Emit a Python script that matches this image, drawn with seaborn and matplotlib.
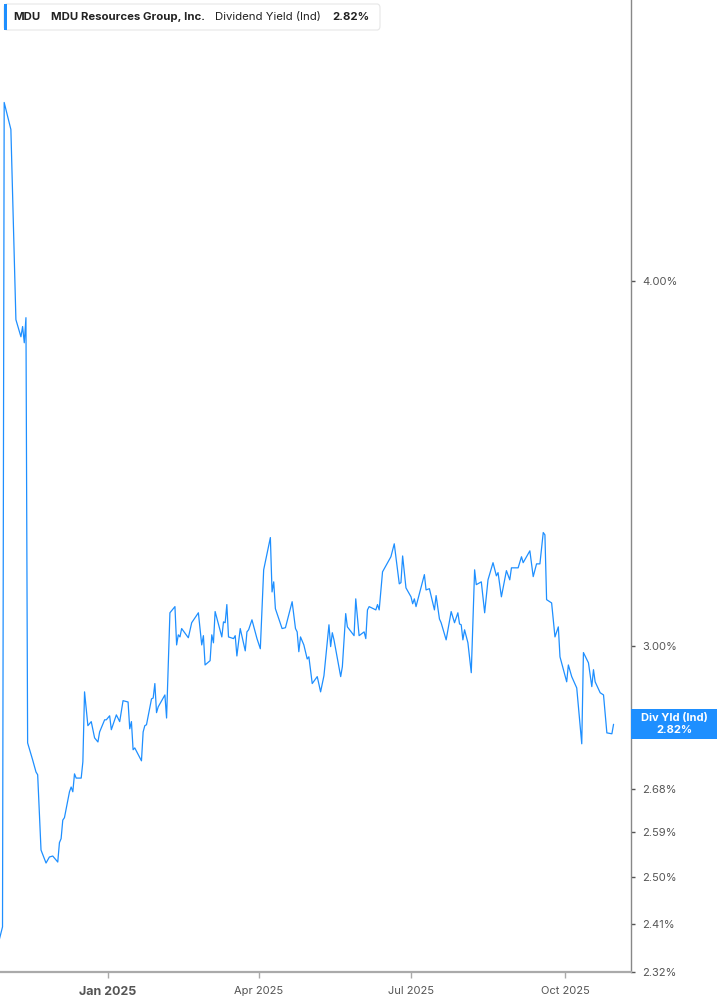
import pandas as pd
import numpy as np
import seaborn as sns
import matplotlib.pyplot as plt
import matplotlib.dates as mdates
from matplotlib.patches import Rectangle, FancyBboxPatch
from matplotlib.ticker import FixedLocator, FixedFormatter, NullLocator

sns.set_style("white")
plt.rcParams['font.family'] = ['Inter', 'DejaVu Sans']

# MDU dividend yield (Ind)
dates = ['2024-10-28', '2024-10-30', '2024-10-31', '2024-11-04', '2024-11-07', '2024-11-10',
         '2024-11-11', '2024-11-12', '2024-11-13', '2024-11-14', '2024-11-17', '2024-11-19',
         '2024-11-20', '2024-11-22', '2024-11-25', '2024-11-27', '2024-11-29', '2024-12-02',
         '2024-12-03', '2024-12-04', '2024-12-05', '2024-12-06', '2024-12-09', '2024-12-10',
         '2024-12-11', '2024-12-12', '2024-12-13', '2024-12-16', '2024-12-17', '2024-12-18',
         '2024-12-20', '2024-12-22', '2024-12-24', '2024-12-26', '2024-12-27', '2024-12-30',
         '2024-12-31', '2025-01-02', '2025-01-03', '2025-01-06', '2025-01-08', '2025-01-10',
         '2025-01-13', '2025-01-14', '2025-01-15', '2025-01-16', '2025-01-17', '2025-01-21',
         '2025-01-22', '2025-01-23', '2025-01-24', '2025-01-27', '2025-01-28', '2025-01-29',
         '2025-01-30', '2025-01-31', '2025-02-04', '2025-02-05', '2025-02-07', '2025-02-10',
         '2025-02-11', '2025-02-12', '2025-02-13', '2025-02-14', '2025-02-18', '2025-02-20',
         '2025-02-24', '2025-02-26', '2025-02-27', '2025-02-28', '2025-03-03', '2025-03-04',
         '2025-03-05', '2025-03-06', '2025-03-10', '2025-03-11', '2025-03-12', '2025-03-13',
         '2025-03-14', '2025-03-17', '2025-03-18', '2025-03-19', '2025-03-21', '2025-03-24',
         '2025-03-25', '2025-03-26', '2025-03-28', '2025-03-31', '2025-04-02', '2025-04-04',
         '2025-04-08', '2025-04-09', '2025-04-10', '2025-04-11', '2025-04-15', '2025-04-17',
         '2025-04-21', '2025-04-23', '2025-04-24', '2025-04-25', '2025-04-26', '2025-04-28',
         '2025-04-30', '2025-05-01', '2025-05-03', '2025-05-06', '2025-05-08', '2025-05-10',
         '2025-05-13', '2025-05-14', '2025-05-15', '2025-05-16', '2025-05-20', '2025-05-21',
         '2025-05-23', '2025-05-24', '2025-05-28', '2025-05-29', '2025-05-31', '2025-06-03',
         '2025-06-04', '2025-06-05', '2025-06-06', '2025-06-10', '2025-06-11', '2025-06-12',
         '2025-06-14', '2025-06-17', '2025-06-19', '2025-06-21', '2025-06-24', '2025-06-25',
         '2025-06-26', '2025-06-28', '2025-07-01', '2025-07-02', '2025-07-03', '2025-07-04',
         '2025-07-09', '2025-07-10', '2025-07-12', '2025-07-15', '2025-07-16', '2025-07-18',
         '2025-07-19', '2025-07-22', '2025-07-25', '2025-07-27', '2025-07-29', '2025-07-30',
         '2025-07-31', '2025-08-01', '2025-08-02', '2025-08-04', '2025-08-06', '2025-08-08',
         '2025-08-09', '2025-08-12', '2025-08-14', '2025-08-16', '2025-08-19', '2025-08-21',
         '2025-08-22', '2025-08-24', '2025-08-27', '2025-08-29', '2025-08-30', '2025-09-03',
         '2025-09-05', '2025-09-06', '2025-09-10', '2025-09-12', '2025-09-14', '2025-09-16',
         '2025-09-18', '2025-09-19', '2025-09-20', '2025-09-23', '2025-09-25', '2025-09-27',
         '2025-09-28', '2025-10-02', '2025-10-03', '2025-10-05', '2025-10-08', '2025-10-11',
         '2025-10-12', '2025-10-15', '2025-10-17', '2025-10-18', '2025-10-19', '2025-10-22',
         '2025-10-24', '2025-10-26', '2025-10-29', '2025-10-30']

yields = [2.379, 2.404, 4.603, 4.506, 3.879, 3.827, 3.858, 3.809, 3.885, 2.779, 2.742, 2.716,
          2.710, 2.554, 2.528, 2.540, 2.542, 2.530, 2.569, 2.577, 2.615, 2.620, 2.674, 2.684,
          2.674, 2.712, 2.703, 2.703, 2.738, 2.893, 2.817, 2.826, 2.790, 2.781, 2.803, 2.830,
          2.830, 2.839, 2.808, 2.841, 2.826, 2.873, 2.870, 2.810, 2.826, 2.764, 2.768, 2.740,
          2.803, 2.817, 2.819, 2.877, 2.879, 2.912, 2.846, 2.859, 2.886, 2.834, 3.079, 3.094,
          3.002, 3.026, 3.021, 3.041, 3.019, 3.055, 3.079, 3.002, 3.024, 2.955, 2.965, 3.026,
          3.007, 3.082, 3.021, 3.057, 3.055, 3.099, 3.021, 3.017, 3.024, 2.976, 3.041, 2.988,
          3.033, 3.038, 3.062, 3.017, 2.993, 3.185, 3.267, 3.130, 3.155, 3.089, 3.041, 3.043,
          3.106, 3.041, 3.033, 2.986, 3.021, 3.002, 2.969, 2.974, 2.912, 2.928, 2.893, 2.930,
          3.050, 2.998, 3.031, 3.014, 2.928, 2.951, 3.077, 3.045, 3.024, 3.113, 3.024, 3.033,
          3.017, 3.086, 3.094, 3.086, 3.099, 3.086, 3.180, 3.203, 3.218, 3.251, 3.150, 3.153,
          3.220, 3.140, 3.118, 3.101, 3.113, 3.094, 3.173, 3.135, 3.138, 3.086, 3.121, 3.064,
          3.055, 3.014, 3.082, 3.055, 3.079, 3.052, 3.050, 3.014, 3.038, 3.007, 2.937, 3.185,
          3.148, 3.155, 3.079, 3.160, 3.203, 3.170, 3.178, 3.118, 3.183, 3.160, 3.190, 3.190,
          3.218, 3.203, 3.233, 3.168, 3.200, 3.200, 3.280, 3.274, 3.111, 3.103, 3.021, 3.045,
          2.974, 2.916, 2.955, 2.928, 2.902, 2.777, 2.984, 2.960, 2.905, 2.944, 2.916, 2.891,
          2.886, 2.801, 2.799, 2.820]

ytick_vals = [2.32, 2.41, 2.50, 2.59, 2.68, 3.00, 4.00]
ytick_labels = ['2.32%', '2.41%', '2.50%', '2.59%', '2.68%', '3.00%', '4.00%']
xtick_dates = ['2025-01-01', '2025-04-01', '2025-07-01', '2025-10-01']
xtick_labels = ['Jan 2025', 'Apr 2025', 'Jul 2025', 'Oct 2025']

df = pd.DataFrame({'date': pd.to_datetime(dates), 'yield': yields})

blue = '#1e8fff'
W, H = 717, 1005
fig = plt.figure(figsize=(W / 100, H / 100), dpi=100)
ax = fig.add_axes([0, 33 / H, 631 / W, 972 / H])

sns.lineplot(x='date', y='yield', data=df, ax=ax, color=blue, lw=0.9)

ax.set_yscale('log')
ax.set_ylim(2.32, 4.99)
ax.set_xlim(pd.Timestamp('2024-10-28 12:00'), pd.Timestamp('2025-11-09 10:00'))
ax.set_xlabel('')
ax.set_ylabel('')

ax.yaxis.tick_right()
ax.yaxis.set_major_locator(FixedLocator(ytick_vals))
ax.yaxis.set_major_formatter(FixedFormatter(ytick_labels))
ax.yaxis.set_minor_locator(NullLocator())
ax.tick_params(axis='y', which='major', right=True, left=False, length=3, width=1,
               color='#555555', labelsize=8, labelcolor='#555555', pad=5)

ax.set_xticks(pd.to_datetime(xtick_dates))
ax.set_xticklabels(xtick_labels)
ax.tick_params(axis='x', bottom=True, length=4, width=1, color='#aaaaaa',
               labelsize=8, labelcolor='#555555', pad=6)
first = ax.get_xticklabels()[0]
first.set_fontweight('bold')
first.set_fontsize(9)

for s in ['top', 'left']:
    ax.spines[s].set_visible(False)
ax.spines['right'].set_color('#888888')
ax.spines['right'].set_linewidth(1)
ax.spines['bottom'].set_color('#aaaaaa')
ax.spines['bottom'].set_linewidth(1.6)

# legend box top left
fig.patches.append(FancyBboxPatch((4 / W, 1 - 30 / H), 376 / W, 26 / H,
                                  boxstyle='round,pad=0,rounding_size=0.004',
                                  transform=fig.transFigure, facecolor='white',
                                  edgecolor='#e6e6e6', lw=0.8, zorder=5))
fig.patches.append(Rectangle((4 / W, 1 - 30 / H), 3 / W, 26 / H, transform=fig.transFigure,
                             facecolor=blue, edgecolor='none', zorder=6))
ty = 1 - 17 / H
fs = 8.2
fig.text(13 / W, ty, 'MDU', fontsize=fs, fontweight='bold', color='#222222', va='center', zorder=7)
fig.text(51 / W, ty, 'MDU Resources Group, Inc.', fontsize=fs, fontweight='bold',
         color='#222222', va='center', zorder=7)
fig.text(215 / W, ty, 'Dividend Yield (Ind)', fontsize=fs, color='#222222', va='center', zorder=7)
fig.text(332 / W, ty, '2.82%', fontsize=fs, fontweight='bold', color='#222222', va='center', zorder=7)

# last value label on right
fig.canvas.draw()
last_y = ax.transData.transform((mdates.date2num(df['date'].iloc[-1]), yields[-1]))[1] / H
fig.patches.append(Rectangle((631 / W, last_y - 15 / H), 86 / W, 30 / H, transform=fig.transFigure,
                             facecolor=blue, edgecolor='none', zorder=5))
fig.text(674 / W, last_y + 6 / H, 'Div Yld (Ind)', fontsize=8, fontweight='bold', color='white',
         ha='center', va='center', zorder=7)
fig.text(674 / W, last_y - 6 / H, '2.82%', fontsize=8, fontweight='bold', color='white',
         ha='center', va='center', zorder=7)

fig.savefig('out.png', dpi=100)
